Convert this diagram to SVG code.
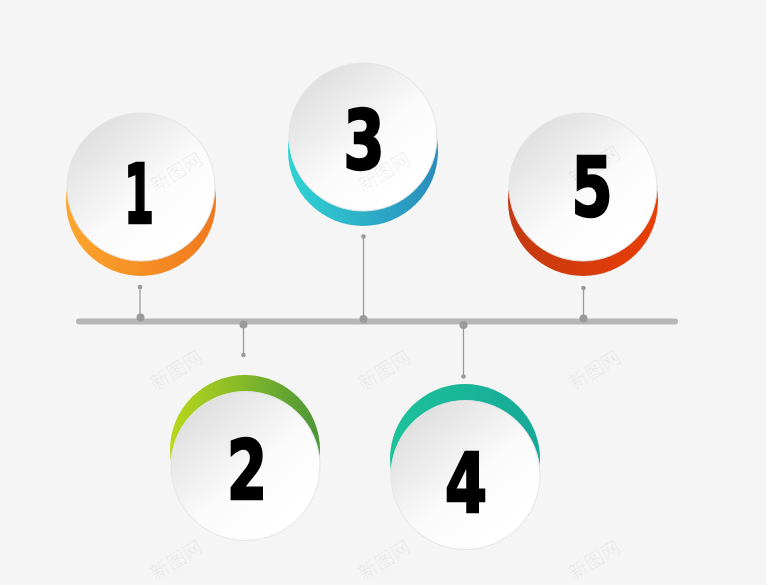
<svg xmlns="http://www.w3.org/2000/svg" width="766" height="585" viewBox="0 0 766 585">
<style>
.face{fill:url(#face);stroke:#e4e4e4;stroke-width:1}
.num{font-family:"DejaVu Sans Condensed","DejaVu Sans",sans-serif;font-weight:bold;font-size:82px;fill:#000;stroke:#000;stroke-width:2.5;stroke-linejoin:miter;text-anchor:middle}
.wm{font-family:"Noto Sans CJK SC",sans-serif;font-size:19px;fill:#000;fill-opacity:0.06;text-anchor:middle}
.stem{stroke:#9a9a9a;stroke-width:1.3}
.dot{fill:#9a9a9a}
</style>
<defs>
<linearGradient id="face" x1="0.15" y1="0.1" x2="0.8" y2="0.85">
<stop offset="0" stop-color="#dedede"/>
<stop offset="0.6" stop-color="#fbfbfb"/>
<stop offset="1" stop-color="#ffffff"/>
</linearGradient>
<linearGradient id="g1" x1="0" y1="0" x2="1" y2="0"><stop offset="0" stop-color="#fba62c"/><stop offset="1" stop-color="#f0791e"/></linearGradient>
<linearGradient id="g2" x1="0" y1="0" x2="1" y2="0"><stop offset="0" stop-color="#b9d81a"/><stop offset="1" stop-color="#4b9638"/></linearGradient>
<linearGradient id="g3" x1="0" y1="0" x2="1" y2="0"><stop offset="0" stop-color="#2fd3d3"/><stop offset="1" stop-color="#2a8cbc"/></linearGradient>
<linearGradient id="g4" x1="0" y1="0" x2="1" y2="0"><stop offset="0" stop-color="#1dc29a"/><stop offset="1" stop-color="#16a898"/></linearGradient>
<linearGradient id="g5" x1="0" y1="0" x2="1" y2="0"><stop offset="0" stop-color="#c33a12"/><stop offset="1" stop-color="#ea3d06"/></linearGradient>
</defs>
<rect width="766" height="585" fill="#f5f5f5"/>

<g id="connectors">
<line x1="79" y1="321.5" x2="675" y2="321.5" stroke="#b6b6b6" stroke-width="6" stroke-linecap="round"/>
<line class="stem" x1="140" y1="287" x2="140" y2="317"/>
<circle class="dot" cx="140" cy="287" r="2.3"/><circle class="dot" cx="140.5" cy="317.5" r="4"/>
<line class="stem" x1="243.5" y1="325" x2="243.5" y2="355"/>
<circle class="dot" cx="243.5" cy="324.5" r="4"/><circle class="dot" cx="243.5" cy="355" r="2.3"/>
<line class="stem" x1="363.5" y1="236.5" x2="363.5" y2="319"/>
<circle class="dot" cx="363.5" cy="236.5" r="2.3"/><circle class="dot" cx="363.5" cy="319" r="4"/>
<line class="stem" x1="463.5" y1="325" x2="463.5" y2="376"/>
<circle class="dot" cx="463.5" cy="325" r="4"/><circle class="dot" cx="463.5" cy="376.5" r="2.3"/>
<line class="stem" x1="583.5" y1="288" x2="583.5" y2="319"/>
<circle class="dot" cx="583.5" cy="288" r="2.3"/><circle class="dot" cx="583.5" cy="318.5" r="4"/>
</g>

<g id="node1">
<circle cx="141" cy="201" r="75" fill="url(#g1)"/>
<circle class="face" cx="141" cy="187" r="74"/>
<text class="num" x="139" y="223" textLength="30" lengthAdjust="spacingAndGlyphs" font-size="100">1</text>
</g>
<g id="node2">
<circle cx="245" cy="450" r="75" fill="url(#g2)"/>
<circle class="face" cx="245.5" cy="466" r="74.5"/>
<text class="num" x="247" y="499" textLength="40" lengthAdjust="spacingAndGlyphs">2</text>
</g>
<g id="node3">
<circle cx="363" cy="151" r="75" fill="url(#g3)"/>
<circle class="face" cx="363" cy="137" r="74"/>
<text class="num" x="364" y="169" textLength="41" lengthAdjust="spacingAndGlyphs">3</text>
</g>
<g id="node4">
<circle cx="465" cy="459" r="75" fill="url(#g4)"/>
<circle class="face" cx="465.5" cy="475" r="74.5"/>
<text class="num" x="466" y="512" textLength="42" lengthAdjust="spacingAndGlyphs">4</text>
</g>
<g id="node5">
<circle cx="583" cy="201" r="75" fill="url(#g5)"/>
<circle class="face" cx="583" cy="187" r="74"/>
<text class="num" x="592" y="216" textLength="41" lengthAdjust="spacingAndGlyphs">5</text>
</g>

<g id="watermarks">
<text class="wm" transform="translate(180,178) rotate(-32)">新图网</text>
<text class="wm" transform="translate(388,178) rotate(-32)">新图网</text>
<text class="wm" transform="translate(598,172) rotate(-32)">新图网</text>
<text class="wm" transform="translate(180,376) rotate(-32)">新图网</text>
<text class="wm" transform="translate(388,376) rotate(-32)">新图网</text>
<text class="wm" transform="translate(598,376) rotate(-32)">新图网</text>
<text class="wm" transform="translate(180,566) rotate(-32)">新图网</text>
<text class="wm" transform="translate(388,566) rotate(-32)">新图网</text>
<text class="wm" transform="translate(598,566) rotate(-32)">新图网</text>
</g>
</svg>
